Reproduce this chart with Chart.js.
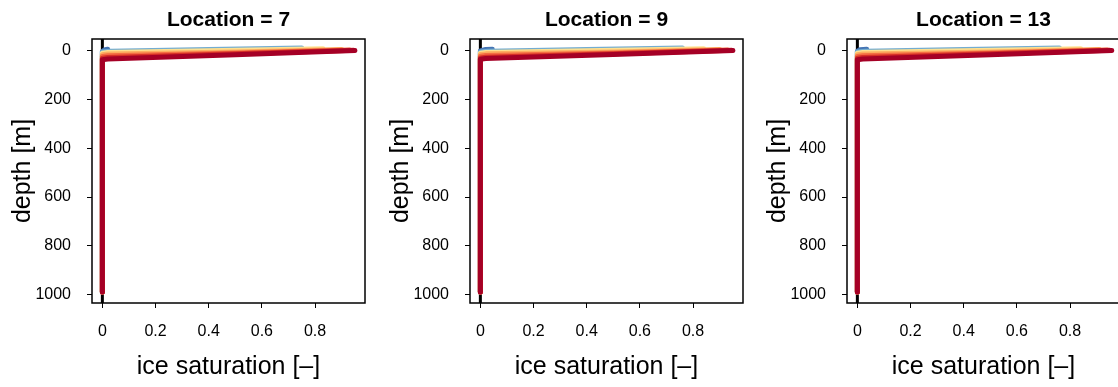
<!DOCTYPE html>
<html lang="en">
<head>
  <meta charset="UTF-8">
  <title>Ice saturation profiles</title>
  <script src="https://cdn.jsdelivr.net/npm/chart.js"></script>
  <style>
    html, body { margin: 0; padding: 0; background: #fff; overflow: hidden; }
    #wrap { position: relative; width: 1118px; height: 387px; overflow: hidden; }
    canvas { position: absolute; top: 0; }
  </style>
</head>
<body>
  <div id="wrap">
    <canvas id="c0" width="378" height="387" style="left:0px"></canvas>
    <canvas id="c1" width="378" height="387" style="left:378px"></canvas>
    <canvas id="c2" width="378" height="387" style="left:755px"></canvas>
  </div>

  <script>
    // panels
    const locations = [7, 9, 13];
    // one colour per run (blue -> dark red)
    const runColors = ['#4575b4', '#74add1', '#fee090', '#fdae61', '#f46d43', '#d73027', '#a50026'];

    // ice saturation [-] and depth [m] per run
    const sat_L7 = [
      [0.02, 0.01, 0, 0],
      [0.75, 0.4, 0.03, 0, 0],
      [0.83, 0.4, 0.02, 0, 0],
      [0.90, 0.5, 0.02, 0, 0],
      [0.93, 0.5, 0.02, 0, 0],
      [0.945, 0.5, 0.02, 0, 0],
      [0.95, 0.5, 0.02, 0, 0]
    ];
    const depth_L7 = [
      [-7, -5, 2, 990],
      [-12, -6, 1, 4, 990],
      [-9, -1, 6, 9, 990],
      [-6, 4, 13, 16, 990],
      [-4, 8, 20, 23, 990],
      [-3, 12, 27, 30, 990],
      [-2, 16, 33, 36, 990]
    ];

    const sat_L9 = [
      [0.045, 0.02, 0, 0],
      [0.76, 0.4, 0.03, 0, 0],
      [0.84, 0.4, 0.02, 0, 0],
      [0.90, 0.5, 0.02, 0, 0],
      [0.93, 0.5, 0.02, 0, 0],
      [0.945, 0.5, 0.02, 0, 0],
      [0.95, 0.5, 0.02, 0, 0]
    ];
    const depth_L9 = [
      [-7, -6, 0, 990],
      [-12, -6, 1, 4, 990],
      [-9, -1, 6, 9, 990],
      [-6, 4, 12, 15, 990],
      [-4, 8, 19, 22, 990],
      [-3, 12, 26, 29, 990],
      [-2, 15, 31, 34, 990]
    ];

    const sat_L13 = [
      [0.035, 0.01, 0, 0],
      [0.76, 0.4, 0.03, 0, 0],
      [0.84, 0.4, 0.02, 0, 0],
      [0.91, 0.5, 0.02, 0, 0],
      [0.94, 0.5, 0.02, 0, 0],
      [0.95, 0.5, 0.02, 0, 0],
      [0.957, 0.5, 0.02, 0, 0]
    ];
    const depth_L13 = [
      [-7, -5, 1, 990],
      [-12, -6, 1, 4, 990],
      [-9, -1, 6, 9, 990],
      [-6, 4, 13, 16, 990],
      [-4, 8, 20, 23, 990],
      [-3, 12, 27, 30, 990],
      [-2, 16, 33, 36, 990]
    ];

    const panelSat = [sat_L7, sat_L9, sat_L13];
    const panelDepth = [depth_L7, depth_L9, depth_L13];

    // axes
    const xTicks = [0, 0.2, 0.4, 0.6, 0.8];
    const yTicks = [0, 200, 400, 600, 800, 1000];
    const xMin = -0.039, xMax = 0.988;
    const yMin = -49, yMax = 1035;
    const refLineX = 0;

    const FONT = '"Liberation Sans", Arial, Helvetica, sans-serif';

    // frame box + panel title
    const panelDecor = {
      id: 'panelDecor',
      afterDatasetsDraw(chart, args, opts) {
        const { ctx, chartArea: a } = chart;
        ctx.save();
        ctx.strokeStyle = '#000';
        ctx.lineWidth = 1.5;
        ctx.strokeRect(a.left, a.top, a.right - a.left, a.bottom - a.top);
        ctx.fillStyle = '#000';
        ctx.font = 'bold 21px ' + FONT;
        ctx.textAlign = 'center';
        ctx.textBaseline = 'alphabetic';
        ctx.fillText(opts.text, (a.left + a.right) / 2, 26);
        ctx.restore();
      }
    };

    function makePanel(i) {
      const datasets = panelSat[i].map((s, r) => ({
        data: s.map((v, k) => ({ x: v, y: panelDepth[i][r][k] })),
        borderColor: runColors[r],
        borderWidth: 5,
        borderCapStyle: 'round',
        borderJoinStyle: 'round',
        pointRadius: 0,
        tension: 0,
        order: runColors.length - r
      }));
      datasets.push({
        data: [{ x: refLineX, y: yMin }, { x: refLineX, y: yMax }],
        borderColor: '#000',
        borderWidth: 3,
        pointRadius: 0,
        order: 100
      });

      new Chart(document.getElementById('c' + i), {
        type: 'line',
        data: { datasets },
        plugins: [panelDecor],
        options: {
          responsive: false,
          animation: false,
          layout: { padding: { top: 39, left: 0, right: 13, bottom: 0 } },
          plugins: {
            legend: { display: false },
            tooltip: { enabled: false },
            panelDecor: { text: 'Location = ' + locations[i] }
          },
          scales: {
            x: {
              type: 'linear',
              min: xMin, max: xMax,
              afterBuildTicks: ax => { ax.ticks = xTicks.map(v => ({ value: v })); },
              afterFit: ax => { ax.height = 84; },
              ticks: {
                color: '#000', padding: 14,
                font: { family: FONT, size: 16 },
                callback: v => String(v),
                maxRotation: 0, autoSkip: false
              },
              grid: { drawOnChartArea: false, drawTicks: true, tickLength: 5, color: '#000', lineWidth: 1 },
              border: { display: false },
              title: {
                display: true, text: 'ice saturation [–]', color: '#000',
                font: { family: FONT, size: 25 }, padding: { top: 0, bottom: 5 }
              }
            },
            y: {
              type: 'linear',
              reverse: true,
              min: yMin, max: yMax,
              afterBuildTicks: ax => { ax.ticks = yTicks.map(v => ({ value: v })); },
              afterFit: ax => { ax.width = 92; },
              ticks: {
                color: '#000', padding: 16,
                font: { family: FONT, size: 16 },
                callback: v => String(v),
                autoSkip: false
              },
              grid: { drawOnChartArea: false, drawTicks: true, tickLength: 5, color: '#000', lineWidth: 1 },
              border: { display: false },
              title: {
                display: true, text: 'depth [m]', color: '#000',
                font: { family: FONT, size: 25 }, padding: { top: 8, bottom: 0 }
              }
            }
          }
        }
      });
    }

    document.addEventListener('DOMContentLoaded', () => {
      locations.forEach((loc, i) => makePanel(i));
    });
  </script>
</body>
</html>
